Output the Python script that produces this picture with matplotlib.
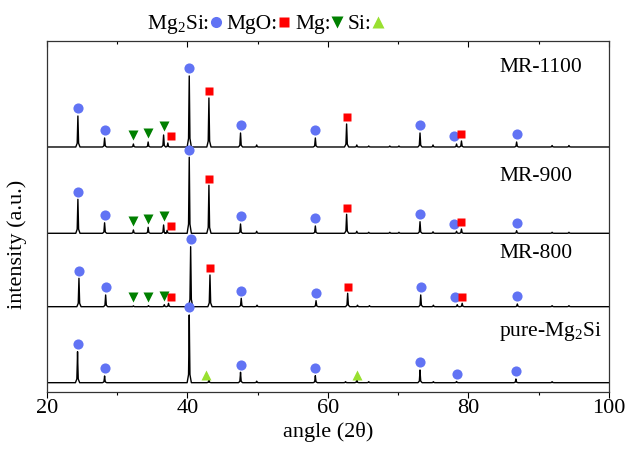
import matplotlib
matplotlib.use('Agg')
import matplotlib.pyplot as plt
from matplotlib.lines import Line2D
import numpy as np

plt.rcParams['font.family'] = ['Liberation Serif', 'DejaVu Serif']
plt.rcParams['mathtext.fontset'] = 'custom'
plt.rcParams['mathtext.rm'] = 'Liberation Serif'
plt.rcParams['mathtext.it'] = 'Liberation Serif:italic'

# peak positions (2theta) and heights (a.u.)
mr1100_pos = [24.4, 28.2, 32.3, 34.4, 36.6, 37.2, 40.25, 43.05, 47.55, 49.85, 58.2, 62.65,
              64.1, 65.8, 68.8, 70.1, 73.1, 74.95, 78.3, 79.0, 86.85, 91.9, 94.3]
mr1100_int = [31, 9, 3, 5, 12, 4, 71, 49, 14, 2, 9, 23,
              2, 1, 1, 1, 14, 2, 3, 6, 5, 1.5, 1.5]

mr900_pos = [24.4, 28.2, 32.3, 34.4, 36.6, 37.1, 40.25, 43.05, 47.55, 49.85, 58.2, 62.65,
             64.1, 65.8, 68.8, 70.1, 73.1, 74.95, 78.3, 79.0, 86.85, 91.9, 94.3]
mr900_int = [34, 10.5, 3.3, 6, 8.3, 3, 76, 48, 9.3, 2, 7.3, 19,
             2, 1, 1, 1, 11.6, 1.5, 2, 4.3, 2.6, 1, 1]

mr800_pos = [24.55, 28.35, 32.3, 34.45, 36.7, 37.3, 40.45, 43.2, 47.65, 49.9, 58.3, 62.8,
             64.2, 65.9, 73.2, 75.0, 78.4, 79.1, 86.95, 91.9, 94.3]
mr800_int = [28.4, 11.7, 0.8, 1, 2, 3.4, 60, 31.7, 8.4, 1.5, 6, 13.4,
             1.5, 1, 11.7, 1.5, 2, 3.4, 2.7, 1, 1]

pure_pos = [24.35, 28.2, 40.25, 43.05, 47.55, 49.85, 58.2, 62.5, 64.1, 65.8, 73.1, 75.0,
            78.3, 86.75, 91.9]
pure_int = [31, 6.7, 67.7, 2.7, 10.4, 1.5, 7, 1, 2.7, 1, 12.7, 1,
            1.2, 3.7, 1]

# vertical offsets of the stacked patterns
offsets = [245, 158.7, 85.3, 9.3]
names = ['MR-1100', 'MR-900', 'MR-800', 'pure-Mg$_2$Si']
label_y = [324, 215, 138, 60]

# phase markers per pattern
mg2si_marks = [[24.4, 28.2, 40.25, 47.55, 58.2, 73.1, 78.0, 86.85],
               [24.4, 28.2, 40.25, 47.55, 58.2, 73.1, 78.0, 86.85],
               [24.55, 28.35, 40.45, 47.65, 58.3, 73.2, 78.1, 86.95],
               [24.35, 28.2, 40.25, 47.55, 58.2, 73.1, 78.3, 86.75]]
mgo_marks = [[37.65, 43.05, 62.65, 78.9],
             [37.65, 43.05, 62.65, 78.9],
             [37.7, 43.2, 62.8, 79.1],
             []]
mg_marks = [[32.3, 34.4, 36.6],
            [32.3, 34.4, 36.6],
            [32.3, 34.4, 36.6],
            []]
si_marks = [[], [], [], [42.7, 64.1]]

patterns = [(mr1100_pos, mr1100_int), (mr900_pos, mr900_int),
            (mr800_pos, mr800_int), (pure_pos, pure_int)]

# peak outline (shape only)
shape_dx = np.array([-0.3, -0.1, -0.04, 0, 0.04, 0.1, 0.3])
shape_fr = np.array([0, 0.12, 0.6, 1, 0.6, 0.12, 0])


def trace(pos, inten):
    xs = [20.0]
    ys = [0.0]
    for p, h in zip(pos, inten):
        xs.extend(p + shape_dx)
        ys.extend(h * shape_fr)
    xs.append(100.0)
    ys.append(0.0)
    return np.array(xs), np.array(ys)


def local_top(x, y, a):
    m = (x > a - 0.5) & (x < a + 0.5)
    return y[m].max() if m.any() else 0.0


fig = plt.figure(figsize=(6.29, 4.53), dpi=100)
ax = fig.add_axes([0.0747, 0.1347, 0.8935, 0.7748])

c_circ = '#6173f4'
c_sq = '#ff0000'
c_mg = '#008000'
c_si = '#99e030'

for i, (pos, inten) in enumerate(patterns):
    x, y = trace(pos, inten)
    base = offsets[i]
    ax.plot(x, y + base, color='black', lw=1.0)
    for a in mg2si_marks[i]:
        ax.plot(a, base + local_top(x, y, a) + 7.5, 'o', color=c_circ, ms=7.3, mec='none')
    for a in mgo_marks[i]:
        ax.plot(a, base + local_top(x, y, a) + 6.5, 's', color=c_sq, ms=6, mec='none')
    for a in mg_marks[i]:
        ax.plot(a, base + local_top(x, y, a) + 8.5, 'v', color=c_mg, ms=7.5, mec='none')
    for a in si_marks[i]:
        ax.plot(a, base + local_top(x, y, a) + 5, '^', color=c_si, ms=7.5, mec='none')
    ax.text(84.4, label_y[i], names[i], fontsize=15.5, va='center', ha='left')

ax.set_xlim(20, 100)
ax.set_ylim(0, 351)
ax.set_xticks([20, 40, 60, 80, 100])
ax.set_xticks([30, 50, 70, 90], minor=True)
ax.set_yticks([])
ax.tick_params(axis='x', which='major', direction='out', length=4, width=0.8,
               labelsize=16, pad=1, top=True)
ax.tick_params(axis='x', which='minor', direction='out', length=2.5, width=0.8, top=True)
ax.set_xlabel('angle (2θ)', fontsize=16)
ax.set_ylabel('intensity (a.u.)', fontsize=16)
ax.xaxis.set_label_coords(0.5, -0.085)
ax.yaxis.set_label_coords(-0.035, 0.42)
for s in ax.spines.values():
    s.set_linewidth(0.9)
    s.set_color('#333333')

# top axis ticks point down into the plot
for t in ax.xaxis.get_major_ticks():
    t.tick2line.set_marker(3)
    t.tick2line.set_markersize(4.5)
for t in ax.xaxis.get_minor_ticks():
    t.tick2line.set_marker(3)
    t.tick2line.set_markersize(2)

handles = [Line2D([], [], ls='none', marker='o', color=c_circ, ms=8, mec='none'),
           Line2D([], [], ls='none', marker='s', color=c_sq, ms=6.5, mec='none'),
           Line2D([], [], ls='none', marker='v', color=c_mg, ms=8, mec='none'),
           Line2D([], [], ls='none', marker='^', color=c_si, ms=8, mec='none')]
labels = ['Mg$_2$Si:', 'MgO:', 'Mg:', 'Si:']
fig.legend(handles, labels, loc='center', bbox_to_anchor=(0.422, 0.945), ncol=4,
           frameon=False, markerfirst=False, handlelength=0.5, handletextpad=0.05,
           columnspacing=0.25, fontsize=15.5, borderpad=0.1)

fig.savefig('out.png', dpi=100)
